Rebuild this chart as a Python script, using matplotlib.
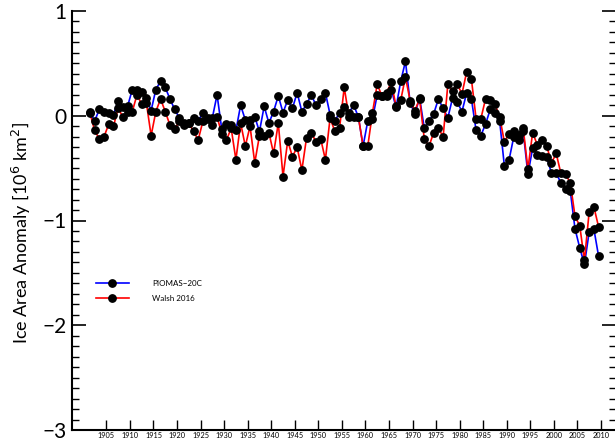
import matplotlib
matplotlib.use("Agg")
import matplotlib.pyplot as plt
import numpy as np
from matplotlib.legend_handler import HandlerLine2D
from matplotlib.lines import Line2D
from matplotlib.ticker import MultipleLocator

plt.rcParams['font.family'] = ['Lato', 'DejaVu Sans']

years = np.arange(1901, 2010)

# annual ice area anomaly, 10^6 km^2
piomas = [0.04, -0.05, 0.06, 0.04, 0.03, 0.01, 0.14, 0.08, 0.09, 0.25,
          0.25, 0.23, 0.17, 0.05, 0.25, 0.33, 0.27, 0.16, 0.06, -0.02,
          -0.07, -0.07, -0.02, -0.05, 0.03, -0.02, -0.02, 0.20, -0.13, -0.08,
          -0.09, -0.14, 0.10, -0.04, -0.04, -0.01, -0.15, 0.09, -0.07, 0.04,
          0.19, 0.03, 0.15, 0.07, 0.22, 0.04, 0.11, 0.20, 0.10, 0.16,
          0.22, 0.01, -0.05, 0.03, 0.08, 0.03, 0.10, -0.01, -0.29, -0.05,
          -0.03, 0.20, 0.19, 0.19, 0.25, 0.08, 0.33, 0.52, 0.12, 0.02,
          0.17, -0.12, -0.05, 0.02, 0.16, 0.07, -0.02, 0.17, 0.13, 0.04,
          0.22, 0.16, -0.14, -0.19, -0.08, 0.06, 0.03, -0.05, -0.48, -0.42,
          -0.20, -0.23, -0.15, -0.56, -0.31, -0.37, -0.38, -0.39, -0.55, -0.55,
          -0.64, -0.70, -0.72, -1.08, -1.26, -1.42, -1.11, -1.08, -1.34]

walsh = [0.03, -0.14, -0.22, -0.20, -0.08, -0.10, 0.07, -0.01, 0.04, 0.04,
         0.20, 0.11, 0.12, -0.19, 0.04, 0.16, 0.04, -0.09, -0.13, -0.05,
         -0.09, -0.07, -0.15, -0.23, -0.05, -0.03, -0.09, -0.01, -0.17, -0.23,
         -0.12, -0.42, -0.07, -0.29, -0.10, -0.45, -0.19, -0.19, -0.16, -0.36,
         -0.07, -0.58, -0.24, -0.39, -0.30, -0.52, -0.21, -0.16, -0.25, -0.22,
         -0.42, -0.02, -0.15, -0.12, 0.27, -0.01, -0.01, -0.01, -0.29, -0.29,
         0.03, 0.30, 0.19, 0.22, 0.32, 0.09, 0.15, 0.37, 0.14, 0.05,
         0.16, -0.22, -0.29, -0.16, -0.12, -0.20, 0.30, 0.24, 0.30, 0.21,
         0.42, 0.35, -0.03, -0.03, 0.16, 0.15, 0.11, -0.01, -0.25, -0.17,
         -0.15, -0.18, -0.12, -0.51, -0.16, -0.28, -0.23, -0.29, -0.45, -0.36,
         -0.55, -0.56, -0.64, -0.96, -1.05, -1.38, -0.92, -0.87, -1.06]


class EndDot(HandlerLine2D):
    # marker at the right end of the legend line
    def get_xdata(self, legend, xdescent, ydescent, width, height, fontsize):
        return [-xdescent, -xdescent + width], [-xdescent + width]


fig = plt.figure(figsize=(6.15, 4.41), dpi=100)
ax = fig.add_axes([72 / 615, 11 / 441, 544 / 615, 419 / 441])

x = years + 0.5
ax.plot(x, piomas, color='#0000ff', lw=1.2)
ax.plot(x, walsh, color='#ff0000', lw=1.2)
ax.plot(x, piomas, ls='none', marker='o', ms=5.3, color='black')
ax.plot(x, walsh, ls='none', marker='o', ms=5.3, color='black')

ax.set_xlim(1897.7, 2013.2)
ax.set_ylim(-3, 1.0)
ax.set_ylabel('Ice Area Anomaly [10$^6$ km$^2$]', fontsize=13)
ax.yaxis.set_label_coords(-0.072, 0.47)

ax.set_xticks(np.arange(1905, 2011, 5))
ax.yaxis.set_major_locator(MultipleLocator(1))
ax.yaxis.set_minor_locator(MultipleLocator(0.1))
ax.tick_params(axis='y', which='major', direction='in', length=10, width=1.2,
               labelsize=15, right=True, pad=4)
ax.tick_params(axis='y', which='minor', direction='in', length=5, width=1.0, right=True)
ax.tick_params(axis='x', which='major', direction='in', length=7, width=1.0,
               labelsize=5.3, pad=1.5)
for s in ['top', 'right']:
    ax.spines[s].set_visible(False)
for s in ['left', 'bottom']:
    ax.spines[s].set_linewidth(1.5)

h1 = Line2D([], [], color='#0000ff', lw=1.2, marker='o', ms=5.3,
            markerfacecolor='black', markeredgecolor='black')
h2 = Line2D([], [], color='#ff0000', lw=1.2, marker='o', ms=5.3,
            markerfacecolor='black', markeredgecolor='black')
ax.legend([h1, h2], ['PIOMAS\u221220C', 'Walsh 2016'], loc='upper left',
          bbox_to_anchor=(0.03, 0.375), frameon=False, fontsize=5.8,
          handlelength=4.1, handletextpad=2.9, labelspacing=1.0,
          handler_map={h1: EndDot(), h2: EndDot()})

fig.savefig('out.png', dpi=100)
